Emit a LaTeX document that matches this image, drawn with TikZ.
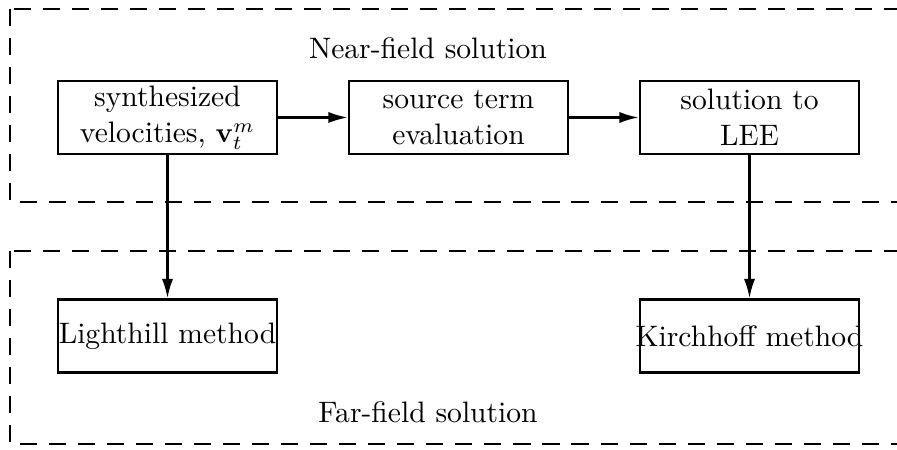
\documentclass[tikz,border=0pt]{standalone}
\usetikzlibrary{arrows.meta}
\begin{document}
\begin{tikzpicture}[x=0.3515pt,y=-0.3515pt,
  every node/.style={font=\fontsize{10.4}{12.8}\selectfont},
  procbox/.style={draw,line width=0.8pt,minimum width=77pt,minimum height=25.7pt,inner sep=0pt,align=center},
  zone/.style={draw,line width=0.75pt,dash pattern=on 6pt off 4.2pt},
  flow/.style={line width=0.8pt,-{Latex[length=6.8pt,width=3.9pt]}}]
  \clip (0,0) rectangle (897,450);
  \draw[zone] (10,9) rectangle (930,202);
  \draw[zone] (10,251) rectangle (930,444);
  \node (near) at (428,48) {Near-field solution};
  \node (far) at (428,412) {Far-field solution};
  \node[procbox] (syn) at (167.5,117.5) {synthesized\\velocities, $\mathbf{v}_t^m$};
  \node[procbox] (src) at (458.5,117.5) {source term\\evaluation};
  \node[procbox] (lee) at (749.5,117.5) {solution to\\LEE};
  \node[procbox] (lh) at (167.5,336) {\makebox[70pt]{Lighthill method}};
  \node[procbox] (kh) at (749.5,336) {\makebox[70pt]{Kirchhoff method}};
  \draw[flow] (syn) -- (src);
  \draw[flow] (src) -- (lee);
  \draw[flow] (syn) -- (lh);
  \draw[flow] (lee) -- (kh);
\end{tikzpicture}
\end{document}
